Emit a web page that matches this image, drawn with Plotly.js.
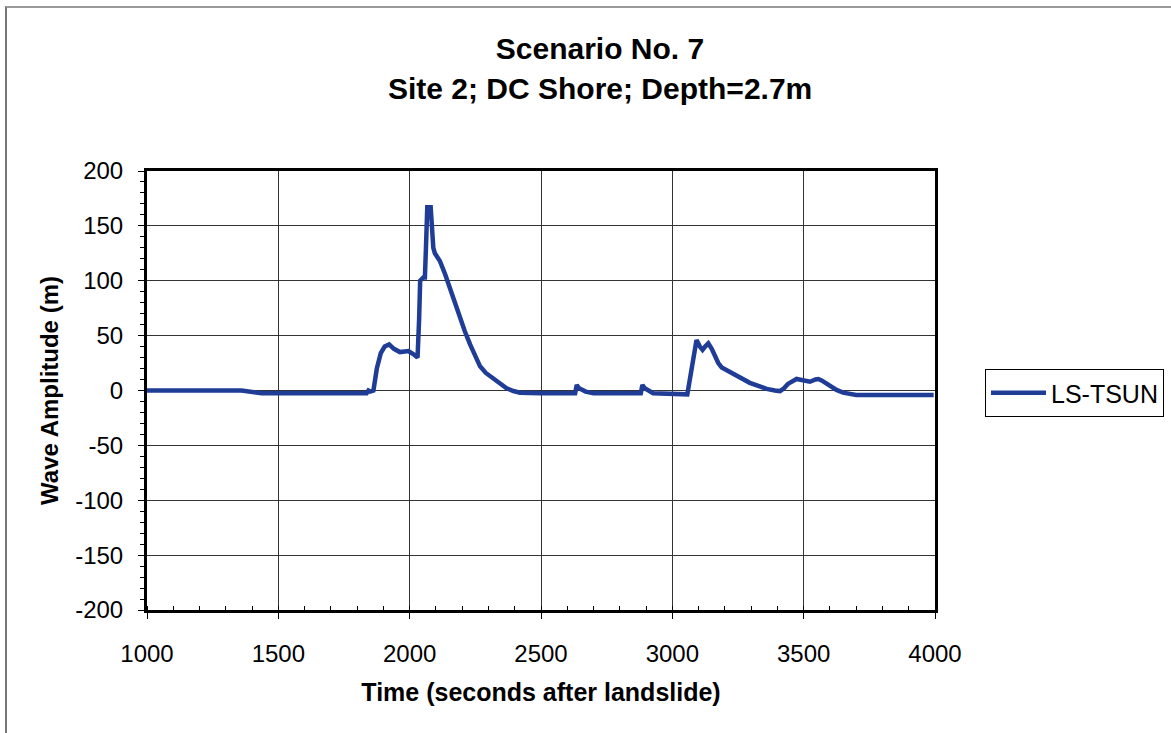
<!DOCTYPE html>
<html>
<head>
<meta charset="utf-8">
<script src="https://cdn.plot.ly/plotly-3.0.1.min.js"></script>
<style>
html,body{margin:0;padding:0;background:#fff;}
#frame{position:absolute;left:5px;top:6px;width:1166px;height:727px;border-left:2px solid #777;border-top:2px solid #999;box-sizing:border-box;pointer-events:none;z-index:5;}
#chart{width:1171px;height:733px;}
</style>
</head>
<body>
<div id="frame"></div>
<div id="chart"></div>
<script>
const seriesName = "LS-TSUN";
const timeSec = [1000, 1360, 1437, 1836, 1843, 1850, 1862, 1875, 1890, 1905, 1922, 1940, 1963, 1980, 1995, 2015, 2030, 2036, 2040, 2052, 2058, 2062, 2067, 2080, 2090, 2096, 2115, 2135, 2153, 2172, 2191, 2210, 2230, 2250, 2268, 2290, 2318, 2345, 2369, 2395, 2420, 2496, 2630, 2636, 2645, 2670, 2700, 2880, 2886, 2895, 2927, 3057, 3070, 3080, 3092, 3105, 3115, 3125, 3137, 3150, 3162, 3175, 3188, 3210, 3232, 3260, 3295, 3330, 3359, 3390, 3410, 3425, 3440, 3473, 3495, 3524, 3545, 3556, 3570, 3587, 3605, 3625, 3650, 3676, 3700, 3995];
const amplitude = [0, 0, -2.5, -2.5, 0, -1, 0, 20, 34, 40, 42, 38, 35, 36, 36, 33, 30, 65, 100, 103, 103, 130, 167, 167, 130, 125, 118, 106, 93, 80, 67, 54, 42, 31, 22, 16, 11, 6, 2, -0.5, -2, -2.5, -2.5, 5, 2, -1, -2.5, -2.5, 5, 2, -2.5, -3.5, 15, 35, 46, 40, 37, 40, 43, 38, 32, 25, 21, 18, 15, 11, 7, 4, 1.5, 0, -0.5, 2, 6, 10.5, 9, 8, 10, 10.5, 9, 6, 3, 0.5, -2, -3.5, -4, -4];
const xTicks = [1000, 1500, 2000, 2500, 3000, 3500, 4000];
const yTicks = [-200, -150, -100, -50, 0, 50, 100, 150, 200];
const titleLine1 = "Scenario No. 7";
const titleLine2 = "Site 2; DC Shore; Depth=2.7m";
const xTitle = "Time (seconds after landslide)";
const yTitle = "Wave Amplitude (m)";

const font = "Liberation Sans, Arial, sans-serif";
const trace = {
  x: timeSec, y: amplitude, type: "scatter", mode: "lines", name: seriesName,
  line: {color: "#1f3d96", width: 4.5}
};
const layout = {
  width: 1171, height: 733,
  margin: {l: 147, r: 236, t: 171, b: 123, autoexpand: false},
  paper_bgcolor: "#fff", plot_bgcolor: "#fff",
  font: {family: font, color: "#000", size: 24},
  title: {text: "<b>" + titleLine1 + "</b>", x: 600/1171, xanchor: "center", xref: "container",
          y: 1 - 48.5/733, yanchor: "middle", yref: "container",
          font: {family: font, size: 30, color: "#000"}},
  annotations: [{text: "<b>" + titleLine2 + "</b>", xref: "paper", yref: "paper",
                 x: (600-147)/788, y: 1 + (171-88)/439, xanchor: "center", yanchor: "middle",
                 showarrow: false, font: {family: font, size: 30, color: "#000"}}],
  xaxis: {range: [1000, 4000], tickvals: xTicks, ticktext: xTicks.map(String),
          showgrid: true, gridcolor: "#333", gridwidth: 1, zeroline: false,
          showline: true, linecolor: "#000", linewidth: 3, mirror: true,
          ticks: "outside", ticklen: 6, tickcolor: "#000", tickwidth: 1,
          ticklabelstandoff: 14,
          minor: {dtick: 100, ticks: "inside", ticklen: 4, tickcolor: "#000", showgrid: false},
          tickfont: {size: 24}, title: {text: "<b>" + xTitle + "</b>", font: {size: 25}, standoff: 18}},
  yaxis: {range: [-200, 200], tickvals: yTicks, ticktext: yTicks.map(String),
          showgrid: true, gridcolor: "#333", gridwidth: 1, zeroline: false,
          showline: true, linecolor: "#000", linewidth: 3, mirror: true,
          ticks: "outside", ticklen: 6, tickcolor: "#000", tickwidth: 1,
          ticklabelstandoff: 10,
          minor: {dtick: 10, ticks: "outside", ticklen: 4, tickcolor: "#000", showgrid: false},
          tickfont: {size: 24}, title: {text: "<b>" + yTitle + "</b>", font: {size: 24}, standoff: 10}},
  showlegend: true,
  legend: {x: (985-147)/788, xanchor: "left", y: (610-393)/439, yanchor: "middle",
           itemwidth: 55,
           bordercolor: "#000", borderwidth: 1, bgcolor: "#fff", font: {size: 25}}
};
Plotly.newPlot("chart", [trace], layout, {displayModeBar: false, staticPlot: true});
</script>
</body>
</html>
